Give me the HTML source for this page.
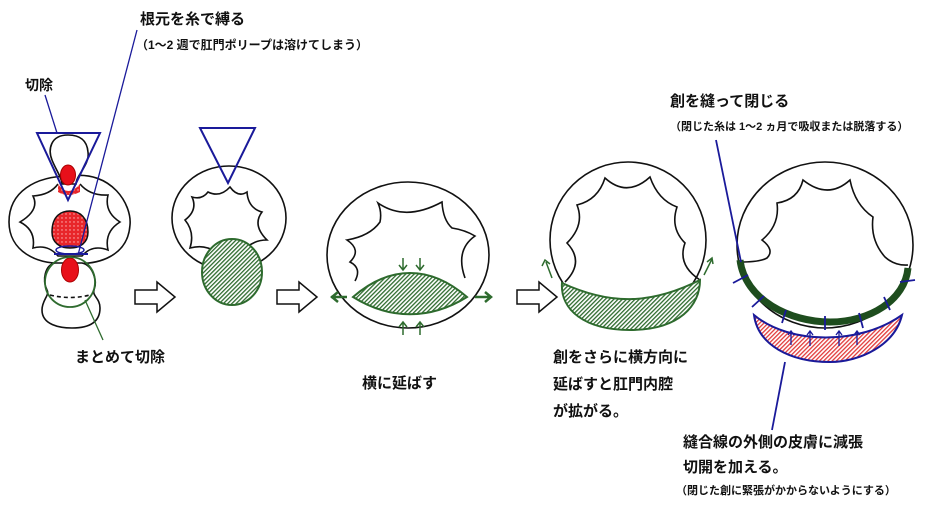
<!DOCTYPE html>
<html><head><meta charset="utf-8"><style>
html,body{margin:0;padding:0;background:#fff;}
svg{display:block;}
text{font-family:"Liberation Sans","Noto Sans CJK JP",sans-serif;font-weight:bold;fill:#111;}
</style></head><body>
<svg width="945" height="507" viewBox="0 0 945 507" xmlns="http://www.w3.org/2000/svg">
<defs>
<pattern id="hg" width="3" height="3" patternUnits="userSpaceOnUse" patternTransform="rotate(45)"><rect width="3" height="3" fill="#fff"/><rect width="1.3" height="3" fill="#2e6b2e"/></pattern>
<pattern id="hr" width="3" height="3" patternUnits="userSpaceOnUse" patternTransform="rotate(45)"><rect width="3" height="3" fill="#fff"/><rect width="1.3" height="3" fill="#e23a3a"/></pattern>
<pattern id="dots" width="4" height="4" patternUnits="userSpaceOnUse"><rect width="4" height="4" fill="#e8262a"/><circle cx="2" cy="2" r="0.7" fill="#fbb"/></pattern>
<g id="harrow"><path d="M0,-7 L22,-7 L22,-15 L40,0 L22,15 L22,7 L0,7 Z" fill="#fff" stroke="#111" stroke-width="1.5"/></g>
</defs>
<g fill="none" stroke="#111" stroke-width="1.6">
<!-- Figure 1 -->
<path d="M70,176 C112,170 132,205 130,225 C128,255 100,266 70,263 C35,266 9,250 9,222 C9,192 35,176 70,176 Z" fill="#fff"/>
<path d="M58,184 Q50,195 33,196 Q40,210 20,222 Q36,230 33,248 Q48,244 58,256 L82,256 Q92,244 108,250 Q104,232 120,222 Q104,212 108,195 Q90,196 80,184"/>
<path d="M68,135 C50,135 48,150 52,160 C56,170 62,178 62,184 L76,184 C76,175 90,165 88,152 C87,140 80,135 68,135 Z" fill="#fff"/>
<path d="M55,263 C45,265 42,280 47,290 C50,295 42,300 42,310 C42,325 60,328 72,328 C90,328 100,322 100,308 C100,298 92,296 94,290 C98,280 92,265 82,263 Z" fill="#fff"/>
<path d="M50,295 Q70,300 90,295" stroke-dasharray="4,3"/>
</g>
<ellipse cx="68" cy="175" rx="7.5" ry="10" fill="#e8101a" stroke="#a00" stroke-width="1"/>
<path d="M58,184 Q68,198 80,184 L80,192 Q68,198 58,192Z" fill="url(#dots)"/>
<path d="M52,232 C52,215 62,211 70,211 C80,211 88,218 88,232 C88,243 80,248 70,248 C60,248 52,243 52,232Z" fill="url(#dots)" stroke="#111" stroke-width="1.5"/>
<ellipse cx="70" cy="250" rx="14" ry="4" fill="none" stroke="#1a1a9a" stroke-width="1.5"/>
<line x1="54" y1="254" x2="88" y2="254" stroke="#1a1a9a" stroke-width="2"/>
<ellipse cx="70" cy="270" rx="8.5" ry="12" fill="#e8101a" stroke="#a00" stroke-width="1"/>
<circle cx="70" cy="282" r="25" fill="none" stroke="#2e6b2e" stroke-width="1.8"/>
<polygon points="37,133 100,133 68,200" fill="none" stroke="#1a1a9a" stroke-width="2"/>
<line x1="45" y1="95" x2="57" y2="133" stroke="#1a1a9a" stroke-width="1.3"/>
<line x1="137" y1="30" x2="78" y2="255" stroke="#1a1a9a" stroke-width="1.3"/>
<line x1="85" y1="300" x2="103" y2="340" stroke="#2e6b2e" stroke-width="1.3"/>
<use href="#harrow" x="135" y="297"/>
<use href="#harrow" x="277" y="297"/>
<use href="#harrow" x="517" y="297"/>
<!-- Figure 2 -->
<g fill="none" stroke="#111" stroke-width="1.6">
<ellipse cx="229" cy="218" rx="57" ry="52" fill="#fff"/>
<path d="M208,192 Q220,198 230,187 Q238,198 247,192 Q248,208 262,212 Q252,225 267,240 Q250,240 240,255 L215,252 Q205,244 190,248 Q195,232 185,220 Q198,210 192,197 Q202,200 208,192Z"/>
</g>
<ellipse cx="232" cy="272" rx="30" ry="33" fill="url(#hg)" stroke="#2e6b2e" stroke-width="2"/>
<polygon points="200,128 255,128 228,183" fill="none" stroke="#1a1a9a" stroke-width="2"/>
<!-- Figure 3 -->
<g fill="none" stroke="#111" stroke-width="1.6">
<ellipse cx="408" cy="255" rx="81" ry="73" fill="#fff"/>
<path d="M355,281 Q362,268 350,262 Q362,250 347,240 Q370,236 380,222 Q382,212 378,203 Q405,222 442,202 Q443,220 452,228 Q465,230 475,236 Q455,250 465,278"/>
</g>
<path d="M353,297 C390,265 430,265 467,297 C430,320 390,320 353,297Z" fill="url(#hg)" stroke="#2e6b2e" stroke-width="2"/>
<g stroke="#2e6b2e" stroke-width="1.5" fill="none">
<path d="M403,258 v12 M399,265 l4,5 l4,-5 M420,258 v12 M416,265 l4,5 l4,-5"/>
<path d="M403,335 v-12 M399,327 l4,-5 l4,5 M420,335 v-12 M416,327 l4,-5 l4,5"/>
<path d="M347,297 h-16 M338,292 l-6,5 l6,5" stroke-width="2.5"/>
<path d="M475,297 h16 M485,292 l6,5 l-6,5" stroke-width="2.5"/>
</g>
<!-- Figure 4 -->
<g fill="none" stroke="#111" stroke-width="1.6">
<ellipse cx="628" cy="240" rx="78" ry="78" fill="#fff"/>
<path d="M565,282 Q585,262 567,243 Q585,225 577,205 Q598,200 605,178 Q627,198 650,177 Q658,200 677,207 Q670,228 685,243 Q677,265 700,280"/>
</g>
<path d="M562,283 C610,305 650,305 700,280 C700,305 680,330 630,330 C585,330 560,310 562,283Z" fill="url(#hg)" stroke="#2e6b2e" stroke-width="2"/>
<g stroke="#2e6b2e" stroke-width="1.5" fill="none">
<path d="M552,278 l-6,-16 M542,266 l3,-6 l5,4"/>
<path d="M704,275 l8,-16 M707,262 l5,-4 l1,6"/>
</g>
<!-- Figure 5 -->
<g fill="none" stroke="#111" stroke-width="1.6">
<ellipse cx="825" cy="245" rx="88" ry="83" fill="#fff"/>
<path d="M740,262 Q760,262 767,258 Q775,250 762,240 Q780,225 777,203 Q798,200 803,180 Q828,200 850,180 Q855,205 873,217 Q870,240 885,257 Q895,266 908,265"/>
</g>
<path d="M740,260 C745,300 790,322 830,322 C870,322 905,300 908,268" fill="none" stroke="#1e4d1e" stroke-width="7"/>
<g stroke="#1a1a9a" stroke-width="1.8">
<line x1="733" y1="283" x2="748" y2="275"/><line x1="752" y1="307" x2="764" y2="296"/>
<line x1="782" y1="323" x2="786" y2="310"/><line x1="825" y1="330" x2="825" y2="316"/>
<line x1="863" y1="328" x2="859" y2="313"/><line x1="890" y1="310" x2="884" y2="297"/>
<line x1="900" y1="282" x2="915" y2="280"/>
<line x1="716" y1="140" x2="741" y2="262"/>
<line x1="785" y1="362" x2="772" y2="430"/>
</g>
<path d="M754,315 C790,345 860,345 902,315 C895,345 860,362 830,362 C790,362 758,345 754,315Z" fill="url(#hr)" stroke="#1a1a9a" stroke-width="2"/>
<g stroke="#1a1a9a" stroke-width="1.3" fill="none">
<path d="M791,345 v-13 M788,335 l3,-4 l3,4 M810,346 v-14 M807,335 l3,-4 l3,4 M839,346 v-14 M836,335 l3,-4 l3,4 M857,345 v-13 M854,335 l3,-4 l3,4"/>
</g>
<!-- Text -->
<text x="140" y="24" font-size="15">根元を糸で縛る</text>
<text x="136" y="49" font-size="12">（1～2 週で肛門ポリープは溶けてしまう）</text>
<text x="25" y="90" font-size="14">切除</text>
<text x="75" y="362" font-size="15">まとめて切除</text>
<text x="362" y="388" font-size="15">横に延ばす</text>
<text x="553" y="362" font-size="15">創をさらに横方向に</text>
<text x="553" y="389" font-size="15">延ばすと肛門内腔</text>
<text x="553" y="416" font-size="15">が拡がる。</text>
<text x="670" y="106" font-size="15">創を縫って閉じる</text>
<text x="670" y="130" font-size="11">（閉じた糸は 1～2 ヵ月で吸収または脱落する）</text>
<text x="683" y="447" font-size="15">縫合線の外側の皮膚に減張</text>
<text x="683" y="472" font-size="15">切開を加える。</text>
<text x="676" y="494" font-size="11">（閉じた創に緊張がかからないようにする）</text>
</svg>
</body></html>
